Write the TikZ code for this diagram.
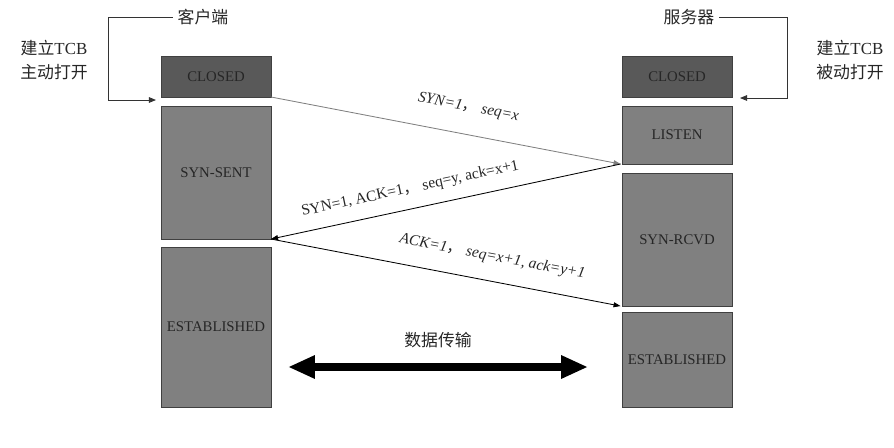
\documentclass[tikz,border=0pt]{standalone}
\usepackage{fontspec}
\setmainfont{Liberation Serif}
\newfontfamily\cjk{Noto Sans CJK SC}
\usetikzlibrary{positioning,arrows.meta}
\definecolor{darkbox}{HTML}{595959}
\definecolor{midbox}{HTML}{808080}
\definecolor{boxline}{HTML}{404040}
\begin{document}
\begin{tikzpicture}[
        x=0.025cm, y=-0.025cm,
        box/.style={draw=boxline, line width=0.6pt, minimum width=2.75cm, inner sep=0pt, outer sep=0pt, text=black!85, font=\fontsize{10.5}{12}\selectfont},
        closedbox/.style={box, fill=darkbox, minimum height=1.025cm},
        statebox/.style={box, fill=midbox},
        cjktext/.style={font=\cjk\fontsize{12}{17}\selectfont, text=black!85},
        msglabel/.style={font=\fontsize{11}{13}\selectfont, inner sep=1pt, sloped, text=black!85},
        msg/.style={line width=0.6pt, -{Triangle[length=5pt,width=3.5pt]}},
        bracket/.style={draw=black!80, line width=0.6pt, -{Triangle[length=5pt,width=4pt]}}
    ]
        \useasboundingbox (0,0) rectangle (894,447);

        % client side
        \node[closedbox] (cclosed) at (216,76.5) {CLOSED};
        \node[statebox, minimum height=3.325cm, below=0.225cm of cclosed] (synsent) {SYN-SENT};
        \node[statebox, minimum height=4cm, below=0.2cm of synsent] (cestab) {ESTABLISHED};

        % server side
        \node[closedbox] (sclosed) at (677,76.5) {CLOSED};
        \node[statebox, minimum height=1.45cm, below=0.225cm of sclosed] (listen) {LISTEN};
        \node[statebox, minimum height=3.325cm, below=0.225cm of listen] (synrcvd) {SYN-RCVD};
        \node[statebox, minimum height=2.375cm, below=0.15cm of synrcvd] (sestab) {ESTABLISHED};

        \node[cjktext] (client) at (203,17.5) {客户端};
        \node[cjktext] (server) at (689,17.5) {服务器};
        \node[cjktext, align=center] (cnote) at (54,60) {建立{\rmfamily TCB}\\主动打开};
        \node[cjktext, align=center] (snote) at (850,60) {建立{\rmfamily TCB}\\被动打开};

        \draw[bracket] (client.west) -- ++(-64,0) |- ([shift={(-5,3)}]cclosed.south west);
        \draw[bracket] (server.east) -- ++(68,0) |- ([shift={(8,1)}]sclosed.south east);

        % handshake
        \draw[msg, draw=midbox] (cclosed.south east) -- node[msglabel, above=0.46cm, pos=0.55] {\itshape SYN=1{\cjk ，} seq=x} ([xshift=-1pt]listen.south west);
        \draw[msg] ([xshift=-1pt]listen.south west) -- node[msglabel, above=0.27cm, pos=0.59] {SYN=1, ACK=1{\cjk ，} seq=y, ack=x+1} (synsent.south east);
        \draw[msg] (synsent.south east) -- node[msglabel, above=0.38cm, pos=0.62] {\itshape ACK=1{\cjk ，} seq=x+1, ack=y+1} ([xshift=-1pt]synrcvd.south west);

        % data transfer
        \coordinate (dl) at (288,367);
        \coordinate (dr) at (588,367);
        \node[cjktext] (data) at (438,340) {数据传输};
        \draw[line width=5pt, {Triangle[length=0.67cm,width=0.54cm]}-{Triangle[length=0.67cm,width=0.54cm]}] (dl) -- (dr);
    \end{tikzpicture}
\end{document}
